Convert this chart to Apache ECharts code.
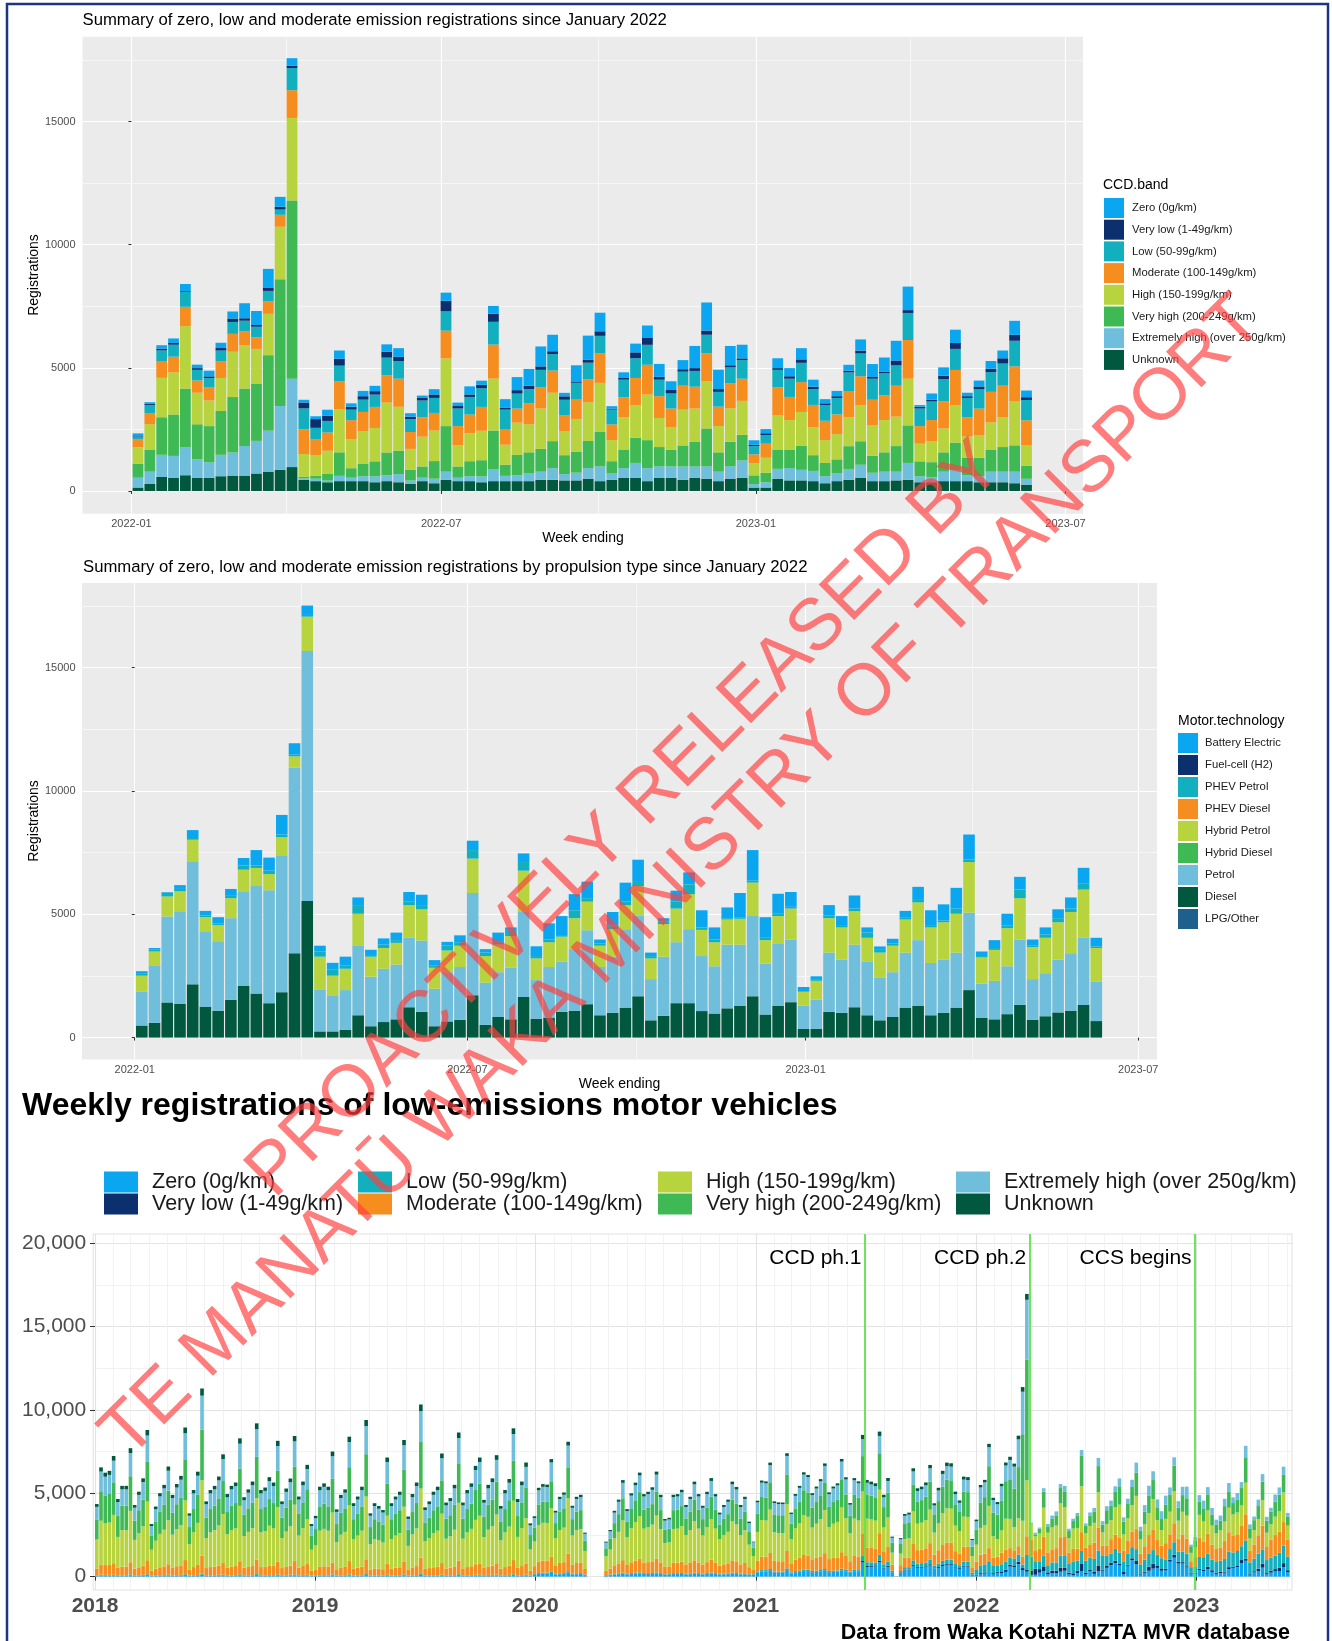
<!DOCTYPE html>
<html>
<head>
<meta charset="utf-8">
<title>Low-emission vehicle registrations</title>
<script src="https://cdn.jsdelivr.net/npm/echarts@6/dist/echarts.min.js"></script>
<style>
  html, body { margin: 0; padding: 0; background: #ffffff; }
  #chart { width: 1332px; height: 1641px; }
</style>
</head>
<body>
<div id="chart"></div>
<script>
// ---------- weekly registrations by CCD band, week ending 2 Jan 2022 .. 11 Jun 2023 ----------
const c1_unknown = [140,285,570,540,640,530,540,600,625,625,
  710,785,855,970,455,400,355,400,400,400,
  355,400,355,285,400,315,455,400,400,355,
  400,400,400,400,455,455,430,430,500,400,
  455,530,530,400,530,530,455,540,500,400,
  500,540,140,140,500,430,430,400,315,400,
  455,540,400,400,430,455,355,355,400,400,
  400,355,355,355,315,255];
const c1_ehigh = [400,500,900,885,1140,755,625,870,940,1200,
  1325,1665,2595,3590,60,100,70,215,140,200,
  240,240,330,140,140,185,330,140,200,240,
  485,215,240,315,330,470,255,315,430,600,
  255,400,610,525,470,470,540,455,500,385,
  500,700,140,215,400,500,430,415,285,315,
  440,525,340,385,355,685,240,215,385,455,
  240,240,430,430,470,240];
const c1_vhigh = [570,900,1525,1680,2380,1425,1470,1780,2250,2335,
  2310,3065,5145,7240,60,115,285,955,385,515,
  610,925,955,430,455,715,1850,455,610,655,
  1570,455,825,855,925,1100,770,855,1100,1395,
  500,755,1025,1140,785,670,855,1000,1540,785,
  1000,1040,355,385,785,755,970,640,540,570,
  925,955,685,785,1040,1525,610,600,785,1110,
  715,755,900,1000,1070,525];
const c1_high = [670,1025,1600,1710,2535,1280,1040,1340,1840,1755,
  1425,1680,2135,3350,925,840,925,1740,1180,1310,
  1355,2025,1780,855,1210,1240,2750,855,1140,1195,
  2110,810,1310,1140,1640,1965,970,1325,1570,1995,
  855,1310,1325,1850,1180,925,1455,1355,1910,1070,
  1355,1380,500,610,1380,1195,1380,1140,925,1025,
  1170,1470,1255,1310,1195,1895,715,855,970,1525,
  855,925,1100,1210,1780,825];
const c1_mod = [330,455,685,640,785,500,525,685,725,570,
  470,500,485,1125,1000,655,740,1140,770,785,
  855,1110,1140,685,785,715,1125,785,755,970,
  1380,610,570,855,855,900,640,785,940,1200,
  640,810,1100,1210,885,755,970,885,1140,785,
  1025,900,355,570,1140,940,1210,900,785,800,
  1070,1170,1025,1000,1255,1570,715,855,1100,1425,
  785,1070,1240,1280,1425,1025];
const c1_low = [100,330,430,485,610,430,385,430,485,430,
  430,430,215,900,855,455,470,640,430,500,
  500,715,715,525,685,610,785,715,715,755,
  925,815,610,570,715,670,640,685,670,710,
  600,715,800,810,670,610,570,640,755,600,
  640,755,330,355,715,740,785,640,640,670,
  755,925,855,900,825,1100,715,755,900,855,
  785,785,800,900,1040,825];
const c1_vlow = [20,40,70,70,30,70,70,100,140,100,
  70,140,115,100,240,355,215,285,115,140,
  140,240,170,100,100,140,430,100,100,140,
  330,70,140,140,140,115,140,55,115,185,
  40,70,240,300,115,140,100,115,170,115,
  85,70,55,70,70,100,140,100,70,70,
  70,115,70,70,200,115,70,70,140,240,
  70,115,140,215,240,115];
const c1_zero = [110,70,140,185,285,140,230,215,285,610,
  570,755,400,300,110,115,240,330,140,215,
  215,300,355,140,100,215,330,140,330,170,
  315,355,530,685,810,670,140,655,985,755,
  100,230,355,485,525,355,370,900,1140,785,
  785,555,185,170,400,330,455,285,170,215,
  240,455,525,570,800,955,70,255,340,540,
  140,240,315,315,570,270];

// ---------- same weeks by propulsion type ----------
const c2_diesel = [490,600,1425,1365,2160,1255,1090,1535,2090,1785,
  1395,1840,3420,5540,250,250,320,905,460,630,
  740,1230,1045,460,655,725,1715,515,835,740,
  1645,765,810,1045,1090,1355,905,1005,1215,1675,
  700,880,1395,1395,1075,975,1185,1295,1675,935,
  1295,1435,350,350,1045,1005,1230,905,700,835,
  1215,1295,905,1005,1215,1925,795,740,950,1325,
  725,865,1020,1090,1325,670];
const c2_petrol = [1365,2330,3485,3755,4955,3025,2815,3305,3840,4355,
  4575,5555,7530,10125,1705,1465,1605,2835,2010,2160,
  2220,2815,2890,1520,1995,2135,4145,1715,1815,2090,
  3445,1565,2050,2025,2495,2995,1955,2275,3180,3275,
  1670,2400,2470,3000,2230,1915,2580,2470,3250,2065,
  2500,2540,945,1185,2400,2160,2535,2165,1740,1815,
  2230,2655,2120,2160,2230,3140,1395,1560,1940,2650,
  1645,1745,2145,2330,2720,1605];
const c2_hybridPetrol = [655,560,810,810,905,605,655,810,875,735,
  655,725,450,1395,1325,795,865,1280,810,840,
  880,1325,1265,850,880,865,1395,1075,1120,1285,
  1675,880,1005,1020,1255,1160,865,1115,975,1190,
  840,1325,1365,1420,1060,975,1020,1050,1355,950,
  1130,1255,560,765,1395,1300,1355,975,1005,1075,
  1340,1530,1440,1510,1575,2050,1060,1255,1545,1675,
  1300,1435,1510,1670,1955,1355];
const c2_phevPetrol = [100,70,100,95,70,65,70,95,170,100,
  140,110,65,70,210,240,140,350,70,140,
  110,140,170,100,195,140,345,140,110,210,
  350,95,110,65,320,140,85,140,140,205,
  95,95,280,395,100,110,55,65,95,95,
  95,70,30,70,110,95,110,210,110,85,
  95,100,95,70,210,110,55,75,100,350,
  55,140,165,140,235,65];
const c2_bev = [80,70,70,155,320,185,250,280,305,625,
  530,795,465,380,235,280,350,310,210,250,
  305,390,420,210,155,280,380,140,375,140,
  350,395,655,770,655,670,165,555,770,865,
  140,140,445,485,695,490,435,980,1225,835,
  810,600,165,115,420,365,530,210,140,195,
  255,530,600,655,840,1005,185,320,485,515,
  250,280,360,450,645,350];
// not visible in the picture
const c2_hybridDiesel = [];
const c2_phevDiesel = [];
const c2_fuelCell = [];
const c2_lpg = [];

// ---------- weekly since 2018 (week starting 1 Jan 2018), up to the week of 20 Dec 2021 ----------
// null = no registrations recorded (April 2020 lockdown)
const w_zero_pre = [40,70,60,60,70,50,50,50,80,40,
  50,60,90,30,40,50,60,70,50,60,
  60,90,40,50,60,110,50,50,50,60,
  70,50,50,60,80,50,50,60,90,50,
  50,60,60,80,50,50,60,80,50,60,
  70,30,40,50,60,50,80,40,50,50,
  80,40,50,50,90,40,40,40,40,70,
  40,50,50,80,40,50,60,100,40,50,
  50,50,70,40,50,60,90,40,50,60,
  70,70,50,60,60,70,40,50,60,90,
  50,60,70,30,110,160,170,170,210,120,
  140,150,240,130,140,150,80,null,null,null,
  null,60,80,120,140,170,120,150,170,190,
  150,150,160,190,150,100,110,150,150,160,
  130,140,170,150,130,150,180,150,120,130,
  140,170,160,130,140,100,110,230,290,290,
  340,230,220,220,370,190,250,270,310,310,
  250,270,290,340,250,270,280,350,300,220,
  300,290,850,580,570,560,870,490,590,240,
  20,230,380,380,650,530,540,560,670,440,
  530,640,680,680,510,460,600,600];
const w_vlow_pre = [5,5,5,5,5,5,5,5,5,5,
  5,5,5,5,5,5,5,5,5,5,
  5,5,5,5,5,5,5,5,5,5,
  5,5,5,5,5,5,5,5,5,5,
  5,5,5,5,5,5,5,5,5,5,
  5,5,5,5,5,5,5,5,5,5,
  5,5,5,5,5,5,5,5,5,5,
  5,5,5,5,5,5,5,5,5,5,
  5,5,5,5,5,5,5,5,5,5,
  5,5,5,5,5,5,5,5,5,5,
  5,5,5,5,10,10,10,10,10,10,
  10,10,10,10,10,10,10,null,null,null,
  null,10,10,10,10,10,10,10,10,10,
  10,10,10,10,10,10,10,10,10,10,
  10,10,10,10,10,10,10,10,10,10,
  10,10,10,10,10,10,10,15,15,15,
  20,15,15,15,20,10,15,15,20,20,
  15,15,20,20,15,15,15,20,20,15,
  20,15,90,60,60,60,90,50,60,20,
  0,20,40,40,70,50,50,60,70,40,
  50,60,70,70,50,50,60,60];
const w_low_pre = [30,40,40,40,40,30,30,30,50,30,
  30,40,50,20,30,30,30,40,30,30,
  40,50,20,30,40,70,30,30,30,40,
  40,30,30,30,50,30,30,30,60,30,
  30,40,30,50,30,30,40,50,30,30,
  40,20,20,30,30,30,50,20,30,30,
  50,30,30,30,60,20,30,30,20,40,
  30,30,30,50,20,30,30,60,20,30,
  30,30,40,30,30,30,50,30,30,30,
  40,40,30,30,40,40,30,30,40,50,
  30,30,40,20,40,50,60,60,70,40,
  50,50,80,40,50,50,30,null,null,null,
  null,20,30,40,50,60,40,50,60,60,
  50,50,50,60,50,30,40,50,50,50,
  40,50,60,50,40,50,60,50,40,40,
  50,60,50,40,50,30,30,70,90,90,
  100,70,70,70,110,60,70,80,90,90,
  80,80,90,100,80,80,80,110,90,70,
  90,90,340,230,230,220,350,200,240,100,
  0,90,150,150,260,210,220,230,270,180,
  210,250,270,270,200,180,240,240];
const w_mod_pre = [410,620,590,600,690,440,520,520,730,410,
  480,560,840,300,400,480,520,630,470,530,
  570,850,360,490,600,1070,430,490,520,570,
  700,470,520,540,790,450,500,540,870,490,
  510,570,540,770,430,500,560,800,460,540,
  640,300,350,510,530,510,710,380,470,500,
  800,420,460,510,890,360,420,400,380,680,
  420,460,480,780,340,470,540,980,400,430,
  480,510,700,420,450,520,820,420,490,530,
  630,680,440,520,560,690,400,490,560,850,
  440,540,650,300,470,690,720,720,920,510,
  620,660,1050,550,620,640,340,null,null,null,
  null,270,360,510,600,750,530,650,730,810,
  640,660,700,820,640,450,460,640,640,680,
  560,620,740,640,550,660,770,640,500,560,
  600,740,700,560,620,430,290,640,810,800,
  960,630,620,620,1040,540,690,760,880,850,
  700,760,820,950,710,760,780,990,830,620,
  830,800,1280,870,860,840,1300,740,890,360,
  10,350,560,580,980,800,810,850,1000,660,
  800,950,1030,1020,770,680,900,890];
const w_high_pre = [1740,2620,2500,2540,2900,1860,2180,2180,3080,1720,
  2040,2360,3520,1260,1680,2000,2200,2640,1960,2220,
  2420,3580,1520,2080,2520,4520,1800,2080,2180,2400,
  2940,1980,2180,2260,3320,1900,2100,2280,3680,2080,
  2140,2380,2260,3260,1800,2120,2350,3380,1920,2280,
  2680,1260,1460,2160,2240,2160,3000,1620,1960,2100,
  3360,1760,1920,2160,3760,1520,1760,1700,1600,2860,
  1760,1920,2040,3280,1440,1980,2260,4140,1660,1800,
  2040,2160,2960,1780,1880,2200,3460,1780,2080,2240,
  2660,2860,1840,2200,2360,2920,1700,2080,2340,3560,
  1860,2280,2740,1280,1480,2190,2270,2260,2890,1620,
  1970,2070,3320,1740,1970,2010,1080,null,null,null,
  null,860,1150,1620,1890,2380,1660,2050,2310,2560,
  2030,2090,2200,2580,2010,1420,1440,2010,2030,2130,
  1760,1970,2340,2030,1740,2090,2420,2030,1570,1760,
  1890,2340,2210,1760,1970,1350,800,1730,2190,2170,
  2600,1710,1690,1690,2810,1460,1880,2070,2380,2320,
  1900,2050,2220,2580,1920,2050,2130,2680,2260,1670,
  2240,2170,2550,1740,1710,1680,2610,1470,1770,720,
  10,690,1130,1150,1950,1590,1620,1690,2010,1320,
  1600,1910,2050,2040,1530,1370,1800,1790];
const w_vhigh_pre = [1180,1770,1680,1720,1950,1250,1470,1470,2080,1160,
  1380,1590,2380,850,1130,1350,1490,1780,1320,1500,
  1630,2420,1030,1400,1700,3050,1220,1400,1470,1620,
  1980,1340,1470,1520,2240,1290,1410,1540,2480,1400,
  1450,1610,1520,2200,1220,1430,1590,2280,1300,1540,
  1810,850,980,1460,1510,1460,2030,1090,1320,1410,
  2270,1190,1300,1460,2540,1030,1190,1140,1080,1930,
  1190,1300,1380,2210,970,1340,1520,2790,1120,1220,
  1380,1460,2000,1200,1270,1490,2330,1200,1400,1510,
  1790,1930,1240,1490,1590,1970,1140,1400,1580,2400,
  1250,1540,1850,860,830,1230,1270,1270,1620,910,
  1100,1160,1860,980,1100,1130,610,null,null,null,
  null,480,640,910,1060,1330,930,1150,1300,1440,
  1140,1170,1230,1450,1130,800,810,1130,1140,1200,
  990,1100,1310,1140,980,1170,1360,1140,880,990,
  1060,1310,1240,990,1100,760,500,1090,1380,1370,
  1640,1080,1070,1070,1780,920,1190,1310,1500,1460,
  1200,1300,1400,1630,1210,1300,1340,1690,1430,1060,
  1420,1370,2120,1450,1420,1400,2180,1220,1480,600,
  0,580,940,960,1620,1320,1350,1410,1680,1100,
  1340,1590,1710,1700,1280,1140,1500,1490];
const w_ehigh_pre = [780,1180,1120,1140,1300,840,980,980,1390,770,
  920,1060,1580,570,760,900,990,1190,880,1000,
  1090,1610,680,940,1130,2030,810,940,980,1080,
  1320,890,980,1020,1490,860,940,1030,1660,940,
  960,1070,1020,1470,810,950,1060,1520,860,1030,
  1210,570,650,970,1010,970,1350,730,880,940,
  1510,790,860,970,1690,680,790,760,720,1290,
  790,860,920,1480,650,890,1020,1860,750,810,
  920,970,1330,800,850,990,1560,800,940,1010,
  1200,1290,830,990,1060,1310,760,940,1050,1600,
  840,1030,1230,580,580,850,890,880,1130,630,
  770,810,1300,680,770,780,420,null,null,null,
  null,340,450,630,740,930,650,800,900,1000,
  790,820,860,1010,780,550,560,780,790,830,
  690,770,910,790,680,820,940,790,610,690,
  740,910,860,690,770,530,320,680,860,860,
  1030,680,670,660,1110,580,750,820,940,920,
  750,810,880,1020,760,810,850,1060,900,660,
  880,860,1020,700,680,670,1040,590,710,290,
  0,280,450,460,780,640,650,680,800,530,
  640,760,820,820,610,550,720,720];
const w_unknown_pre = [170,250,240,240,280,180,210,210,290,160,
  190,220,330,120,160,190,210,250,190,210,
  230,340,140,200,240,430,170,200,210,230,
  280,190,210,210,320,180,200,220,350,200,
  200,230,210,310,170,200,220,320,180,220,
  250,120,140,210,210,210,280,150,190,200,
  320,170,180,210,360,140,170,160,150,270,
  170,180,190,310,140,190,210,390,160,170,
  190,210,280,170,180,210,330,170,200,210,
  250,270,170,210,220,280,160,200,220,340,
  180,220,260,120,100,150,160,150,200,110,
  130,140,230,120,130,140,70,null,null,null,
  null,60,80,110,130,160,110,140,160,170,
  140,140,150,180,140,100,100,140,140,150,
  120,130,160,140,120,140,170,140,110,120,
  130,160,150,120,130,90,40,100,130,120,
  150,100,100,100,160,80,110,120,140,130,
  110,120,130,150,110,120,120,160,130,100,
  130,120,250,170,170,170,260,150,180,70,
  0,70,110,120,190,160,160,170,200,130,
  160,190,210,200,150,140,180,180];
// unknown band still shows on top of the bars until the end of March 2022
const w_unknown_2022 = [60,100,150,150,200,130,130,150,180,190,180,220,280,350];

// from January 2022 the weekly bands follow the summary above
const w_zero = w_zero_pre.concat(c1_zero);
const w_vlow = w_vlow_pre.concat(c1_vlow);
const w_low = w_low_pre.concat(c1_low);
const w_mod = w_mod_pre.concat(c1_mod);
const w_high = w_high_pre.concat(c1_high);
const w_vhigh = w_vhigh_pre.concat(c1_vhigh);
const w_ehigh = w_ehigh_pre.concat(c1_ehigh);
const w_unknown = w_unknown_pre.concat(w_unknown_2022);

const bandNames = ['Zero (0g/km)', 'Very low (1-49g/km)', 'Low (50-99g/km)', 'Moderate (100-149g/km)',
  'High (150-199g/km)', 'Very high (200-249g/km)', 'Extremely high (over 250g/km)', 'Unknown'];
const techNames = ['Battery Electric', 'Fuel-cell (H2)', 'PHEV Petrol', 'PHEV Diesel',
  'Hybrid Petrol', 'Hybrid Diesel', 'Petrol', 'Diesel', 'LPG/Other'];
const events = [['CCD ph.1', '2021-07-01'], ['CCD ph.2', '2022-04-01'], ['CCS begins', '2023-01-01']];

// ---------- styling ----------
const FONT = "'Liberation Sans', Arial, sans-serif";
const C = {
  zero: '#0aa6f0', vlow: '#0c2f6e', low: '#12b0bf', mod: '#f68d1f',
  high: '#b7d33d', vhigh: '#3fb954', ehigh: '#6fbedb', unk: '#00583f', lpg: '#1f5f8b'
};
const DAY = 86400000;
const dayNo = (base, d) => (Date.parse(d) - Date.parse(base)) / DAY;
const ts = (base, n) => Date.parse(base) + n * DAY;

// panel 1 and 2: days counted from 1 Jan 2022
const base1 = '2022-01-01';
const range1 = [-28.6, 556.2];
const weekX1 = c1_zero.map((v, i) => ts('2022-01-02', 7 * i));
const major1 = ['2022-01-01', '2022-07-01', '2023-01-01', '2023-07-01'].map(d => dayNo(base1, d));
const minor1 = major1.slice(1).map((t, i) => (t + major1[i]) / 2);
const fmt1 = v => {
  const d = new Date(ts(base1, v));
  return d.getUTCFullYear() + '-' + String(d.getUTCMonth() + 1).padStart(2, '0');
};

// panel 3: days counted from 1 Jan 2018
const base3 = '2018-01-01';
const range3 = [-3, 1985];
const weekX3 = w_zero.map((v, k) => ts(base3, 7 * k));
const major3 = ['2018', '2019', '2020', '2021', '2022', '2023'].map(y => dayNo(base3, y + '-01-01'));
const minor3 = [];
for (let y = 2018; y <= 2023; y++) {
  for (let m = 1; m < 12; m++) {
    const n = (Date.UTC(y, m, 1) - Date.parse(base3)) / DAY;
    if (n < range3[1]) minor3.push(n);
  }
}
const eventX = events.map(e => Date.parse(e[1]));

// per panel: a hidden time axis that carries the bars, plus value axes (in days) for ticks and grid lines
function xAxesFor(gi, base, range, majorVals, minorVals, o) {
  return [
    { type: 'time', gridIndex: gi, min: ts(base, range[0]), max: ts(base, range[1]),
      axisLine: { show: false }, axisTick: { show: false }, axisLabel: { show: false }, splitLine: { show: false } },
    { type: 'value', gridIndex: gi, min: range[0], max: range[1], position: 'bottom',
      axisLine: { show: false },
      axisTick: { show: true, customValues: majorVals, length: o.tickLen, lineStyle: { color: '#333333', width: 1 } },
      axisLabel: { customValues: majorVals, formatter: o.fmt, fontSize: o.size, fontWeight: o.weight || 'normal',
        color: '#4d4d4d', margin: o.margin, fontFamily: FONT },
      splitLine: { show: true, lineStyle: { color: o.majorColor, width: o.majorWidth } } },
    { type: 'value', gridIndex: gi, min: range[0], max: range[1], position: 'top',
      axisLine: { show: false }, axisLabel: { show: false },
      axisTick: { show: false, customValues: minorVals },
      splitLine: { show: true, lineStyle: { color: o.minorColor, width: o.minorWidth } } }
  ];
}
function yAxesFor(gi, min, max, majorVals, minorVals, o) {
  return [
    { type: 'value', gridIndex: gi, min: min, max: max, position: 'left',
      axisLine: { show: false },
      axisTick: { show: true, customValues: majorVals, length: o.tickLen, lineStyle: { color: '#333333', width: 1 } },
      axisLabel: { customValues: majorVals, formatter: o.fmt, fontSize: o.size, color: '#4d4d4d', margin: o.margin, fontFamily: FONT },
      splitLine: { show: true, lineStyle: { color: o.majorColor, width: o.majorWidth } } },
    { type: 'value', gridIndex: gi, min: min, max: max, position: 'right',
      axisLine: { show: false }, axisLabel: { show: false },
      axisTick: { show: false, customValues: minorVals },
      splitLine: { show: true, lineStyle: { color: o.minorColor, width: o.minorWidth } } }
  ];
}

const ggGrid = { majorColor: '#ffffff', majorWidth: 1.1, minorColor: '#ffffff', minorWidth: 0.55 };
const lightGrid = { majorColor: '#e3e3e3', majorWidth: 1.1, minorColor: '#efefef', minorWidth: 0.8 };
const xAxes = [].concat(
  xAxesFor(0, base1, range1, major1, minor1, Object.assign({ fmt: fmt1, size: 11, margin: 5, tickLen: 3 }, ggGrid)),
  xAxesFor(1, base1, [-28.7, 556.2], major1, minor1, Object.assign({ fmt: fmt1, size: 11, margin: 5, tickLen: 3 }, ggGrid)),
  xAxesFor(2, base3, range3, major3, minor3, Object.assign({
    fmt: v => String(new Date(ts(base3, v)).getUTCFullYear()), size: 21, weight: 'bold', margin: 6, tickLen: 4 }, lightGrid))
);
const yAxes = [].concat(
  yAxesFor(0, -926, 18444, [0, 5000, 10000, 15000], [2500, 7500, 12500, 17500],
    Object.assign({ fmt: v => String(v), size: 11, margin: 7, tickLen: 3 }, ggGrid)),
  yAxesFor(1, -892, 18425, [0, 5000, 10000, 15000], [2500, 7500, 12500, 17500],
    Object.assign({ fmt: v => String(v), size: 11, margin: 6.5, tickLen: 3 }, ggGrid)),
  yAxesFor(2, -800, 20550, [0, 5000, 10000, 15000, 20000], [2500, 7500, 12500, 17500],
    Object.assign({ fmt: v => v.toLocaleString('en-US'), size: 21, margin: 7, tickLen: 5 }, lightGrid))
);

// axis indices: x -> 0/3/6 (time axes), y -> 0/2/4
function bars(name, color, xs, ys, panel, width) {
  const data = [];
  ys.forEach((v, i) => { if (v != null) data.push([xs[i], v]); });
  return {
    name: name, type: 'bar', stack: 'p' + panel, xAxisIndex: panel * 3, yAxisIndex: panel * 2,
    barWidth: width, itemStyle: { color: color }, emphasis: { disabled: true }, data: data
  };
}

const series = [
  // summary by CCD band (Unknown at the bottom, Zero on top)
  bars(bandNames[7], C.unk, weekX1, c1_unknown, 0, 10.8),
  bars(bandNames[6], C.ehigh, weekX1, c1_ehigh, 0, 10.8),
  bars(bandNames[5], C.vhigh, weekX1, c1_vhigh, 0, 10.8),
  bars(bandNames[4], C.high, weekX1, c1_high, 0, 10.8),
  bars(bandNames[3], C.mod, weekX1, c1_mod, 0, 10.8),
  bars(bandNames[2], C.low, weekX1, c1_low, 0, 10.8),
  bars(bandNames[1], C.vlow, weekX1, c1_vlow, 0, 10.8),
  bars(bandNames[0], C.zero, weekX1, c1_zero, 0, 10.8),
  // by propulsion type
  bars(techNames[7], C.unk, weekX1, c2_diesel, 1, 11.6),
  bars(techNames[6], C.ehigh, weekX1, c2_petrol, 1, 11.6),
  bars(techNames[4], C.high, weekX1, c2_hybridPetrol, 1, 11.6),
  bars(techNames[2], C.low, weekX1, c2_phevPetrol, 1, 11.6),
  bars(techNames[0], C.zero, weekX1, c2_bev, 1, 11.6),
  bars(techNames[8], C.lpg, weekX1, c2_lpg, 1, 11.6),
  bars(techNames[5], C.vhigh, weekX1, c2_hybridDiesel, 1, 11.6),
  bars(techNames[3], C.mod, weekX1, c2_phevDiesel, 1, 11.6),
  bars(techNames[1], C.vlow, weekX1, c2_fuelCell, 1, 11.6),
  // weekly since 2018 (Zero at the bottom, Unknown on top)
  bars(bandNames[0], C.zero, weekX3, w_zero, 2, 3.6),
  bars(bandNames[1], C.vlow, weekX3, w_vlow, 2, 3.6),
  bars(bandNames[2], C.low, weekX3, w_low, 2, 3.6),
  bars(bandNames[3], C.mod, weekX3, w_mod, 2, 3.6),
  bars(bandNames[4], C.high, weekX3, w_high, 2, 3.6),
  bars(bandNames[5], C.vhigh, weekX3, w_vhigh, 2, 3.6),
  bars(bandNames[6], C.ehigh, weekX3, w_ehigh, 2, 3.6),
  bars(bandNames[7], C.unk, weekX3, w_unknown, 2, 3.6)
];
series[series.length - 1].markLine = {
  silent: true, symbol: 'none', animation: false,
  label: { show: false },
  lineStyle: { color: '#5fe14b', width: 1.8, type: 'solid' },
  data: eventX.map(x => ({ xAxis: x }))
};

function legendCol(left, top, names, w, h, gap, size, pad) {
  return {
    orient: 'vertical', left: left, top: top, padding: 0, icon: 'rect', selectedMode: false,
    itemWidth: w, itemHeight: h, itemGap: gap, data: names,
    textStyle: { fontSize: size, color: '#1a1a1a', fontFamily: FONT, padding: [0, 0, 0, pad] }
  };
}

function txt(id, text, x, y, size, align, extra) {
  extra = extra || {};
  return {
    type: 'text', id: id, x: x, y: y, rotation: extra.rotation || 0, z: extra.z || 20,
    style: {
      text: text, fill: extra.color || '#000000',
      font: (extra.weight || 'normal') + ' ' + size + 'px ' + FONT,
      textAlign: align, align: align, textVerticalAlign: 'middle', verticalAlign: 'middle',
      lineHeight: extra.lineHeight
    }
  };
}

const graphics = [
  { type: 'rect', id: 'frame', z: 40, shape: { x: 7, y: 4, width: 1321, height: 1660 },
    style: { fill: 'none', stroke: '#1d3580', lineWidth: 2.5 } },
  txt('t1', 'Summary of zero, low and moderate emission registrations since January 2022', 82.5, 20.5, 16.7, 'left'),
  txt('y1', 'Registrations', 34, 275, 14, 'center', { rotation: Math.PI / 2 }),
  txt('x1', 'Week ending', 583, 538, 14, 'center'),
  txt('l1', 'CCD.band', 1103, 185, 14, 'left'),
  txt('t2', 'Summary of zero, low and moderate emission registrations by propulsion type since January 2022', 83, 567, 16.7, 'left'),
  txt('y2', 'Registrations', 34, 821, 14, 'center', { rotation: Math.PI / 2 }),
  txt('x2', 'Week ending', 619.5, 1084, 14, 'center'),
  txt('l2', 'Motor.technology', 1178, 721, 14, 'left'),
  txt('t3', 'Weekly registrations of low-emissions motor vehicles', 22, 1106, 32, 'left', { weight: 'bold' }),
  txt('src', 'Data from Waka Kotahi NZTA MVR database', 1290, 1633, 21.5, 'right', { weight: 'bold' }),
  txt('wm', 'PROACTIVELY RELEASED BY\nTE MANATŪ WAKA MINISTRY OF TRANSPORT', 654, 849, 73, 'center',
    { rotation: Math.PI / 4, color: 'rgba(255,64,64,0.68)', lineHeight: 81, z: 100 })
];

const option = {
  animation: false,
  textStyle: { fontFamily: FONT },
  grid: [
    { left: 82.5, top: 36.8, width: 1000.5, height: 477, show: true, backgroundColor: '#ebebeb', borderWidth: 0 },
    { left: 82, top: 583, width: 1075, height: 476.6, show: true, backgroundColor: '#ebebeb', borderWidth: 0 },
    { left: 93.2, top: 1234, width: 1198.8, height: 356, show: true, backgroundColor: '#ffffff', borderColor: '#e0e0e0', borderWidth: 1 }
  ],
  xAxis: xAxes,
  yAxis: yAxes,
  legend: [
    legendCol(1104, 198, bandNames, 20, 20, 1.7, 11.3, 3),
    legendCol(1178, 733, techNames, 20, 20, 2, 11.3, 2),
    legendCol(104, 1171, bandNames.slice(0, 2), 34, 21, 0, 21.5, 9),
    legendCol(358, 1171, bandNames.slice(2, 4), 34, 21, 0, 21.5, 9),
    legendCol(658, 1171, bandNames.slice(4, 6), 34, 21, 0, 21.5, 9),
    legendCol(956, 1171, bandNames.slice(6, 8), 34, 21, 0, 21.5, 9)
  ],
  graphic: { elements: graphics },
  series: series
};

const chart = echarts.init(document.getElementById('chart'), null, { renderer: 'canvas' });
chart.setOption(option);

// labels of the policy lines, placed with the axis scale
const eventLabels = events.map((e, i) => {
  const px = chart.convertToPixel({ xAxisIndex: 6 }, eventX[i]);
  return txt('ev' + i, e[0], px - 3, 1258, 21, 'right');
});
chart.setOption({ graphic: { elements: graphics.concat(eventLabels) } });
</script>
</body>
</html>
